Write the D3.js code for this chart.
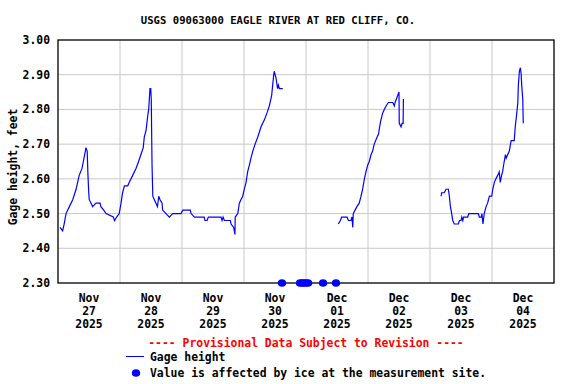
<!DOCTYPE html>
<html>
<head>
<meta charset="utf-8">
<script src="https://cdn.jsdelivr.net/npm/d3@7"></script>
<style>
  body { margin: 0; background: #fff; }
  text { font-family: "DejaVu Sans Mono", monospace; font-weight: bold; font-size: 11.4px; }
  .title { font-size: 10.6px; }
</style>
</head>
<body>
<div id="chart"></div>
<script>
// Gage height, hours since 2025-11-27 00:00 and feet
var seg1Hours = [0.8, 1.8, 2.4, 3.1, 4.4, 5.7, 7.0, 7.6, 8.2, 9.3, 9.8, 10.6, 10.8, 11.3, 11.6, 11.9, 12.1, 12.8, 13.4,
  14.7, 16.3, 16.6, 17.7, 18.6, 21.4, 21.9, 22.7, 23.7, 24.4, 25.0, 25.7, 27.0, 27.6, 28.9, 30.2, 31.2, 32.1, 33.0,
  33.4, 34.1, 34.7, 35.1, 35.6, 35.9, 36.1, 36.4, 36.7, 37.3, 37.9, 38.5, 39.0, 39.5, 40.3, 40.5, 41.8, 43.1, 44.4,
  47.6, 48.3, 51.2, 51.5, 52.8, 56.6, 56.9, 57.7, 58.2, 63.1, 63.5, 63.9, 64.4, 66.7, 67.0, 68.0, 68.5, 68.6, 69.6,
  70.2, 70.8, 71.5, 72.1, 72.8, 73.4, 74.1, 74.7, 75.4, 76.3, 77.3, 78.6, 79.9, 80.9, 81.8, 82.7, 83.1, 83.5, 83.7,
  84.4, 85.0, 85.3, 85.7, 87.0];
var seg1Gage = [2.46, 2.45, 2.47, 2.50, 2.52, 2.54, 2.57, 2.59, 2.61, 2.63, 2.65, 2.68, 2.69, 2.68, 2.61, 2.56, 2.54, 2.53, 2.52,
  2.53, 2.53, 2.52, 2.51, 2.50, 2.49, 2.48, 2.49, 2.50, 2.53, 2.56, 2.58, 2.58, 2.59, 2.61, 2.63, 2.65, 2.67, 2.69,
  2.72, 2.74, 2.78, 2.80, 2.86, 2.86, 2.83, 2.64, 2.55, 2.54, 2.53, 2.52, 2.55, 2.54, 2.53, 2.51, 2.50, 2.49, 2.50,
  2.50, 2.51, 2.51, 2.50, 2.49, 2.49, 2.48, 2.48, 2.49, 2.49, 2.48, 2.49, 2.48, 2.48, 2.47, 2.46, 2.44, 2.49, 2.50,
  2.53, 2.54, 2.55, 2.57, 2.59, 2.62, 2.64, 2.66, 2.68, 2.70, 2.72, 2.75, 2.77, 2.79, 2.81, 2.84, 2.87, 2.90, 2.91,
  2.89, 2.86, 2.87, 2.86, 2.86];

var seg2Hours = [108.5, 109.3, 109.8, 111.9, 112.4, 113.4, 113.8, 114.1, 114.3, 115.0, 115.7, 116.6, 117.3, 117.9, 118.6,
  119.2, 119.9, 120.5, 121.2, 121.8, 122.4, 123.5, 124.1, 124.5, 125.0, 125.7, 126.3, 127.0, 127.9, 129.6, 130.2,
  130.5, 131.0, 131.5, 132.0, 132.1, 132.8, 133.2, 133.6, 133.7];
var seg2Gage = [2.47, 2.48, 2.49, 2.49, 2.48, 2.48, 2.49, 2.46, 2.50, 2.51, 2.52, 2.53, 2.55, 2.57, 2.60,
  2.62, 2.64, 2.65, 2.67, 2.68, 2.70, 2.72, 2.73, 2.75, 2.77, 2.79, 2.80, 2.81, 2.82, 2.82, 2.81,
  2.82, 2.83, 2.84, 2.85, 2.76, 2.75, 2.76, 2.76, 2.83];

var seg3Hours = [148.3, 148.5, 149.5, 150.2, 151.1, 151.5, 151.9, 152.4, 152.8, 153.4, 155.0, 155.4, 156.0, 156.3, 156.7,
  157.0, 158.6, 159.0, 162.7, 163.1, 163.9, 164.1, 164.5, 165.0, 165.7, 166.3, 167.0, 167.9, 168.3, 168.9, 169.5,
  170.2, 170.8, 171.2, 171.7, 172.1, 172.5, 173.2, 173.5, 174.1, 174.7, 175.4, 176.6, 177.0, 177.6, 178.0, 178.2,
  178.6, 179.0, 179.3, 179.5, 179.9, 180.1];
var seg3Gage = [2.55, 2.56, 2.56, 2.57, 2.57, 2.55, 2.52, 2.50, 2.48, 2.47, 2.47, 2.48, 2.48, 2.49, 2.48,
  2.49, 2.49, 2.50, 2.50, 2.49, 2.49, 2.50, 2.47, 2.50, 2.52, 2.53, 2.55, 2.55, 2.57, 2.59, 2.60,
  2.61, 2.62, 2.59, 2.61, 2.62, 2.64, 2.67, 2.66, 2.67, 2.68, 2.71, 2.71, 2.75, 2.79, 2.82, 2.87,
  2.91, 2.92, 2.90, 2.87, 2.83, 2.76];

// ice affected values, plotted along the bottom
var iceHours = [86.7, 93.7, 94.5, 95.2, 96.0, 96.8, 102.6, 107.6];

var dayLabels = [["Nov", "27", "2025"], ["Nov", "28", "2025"], ["Nov", "29", "2025"], ["Nov", "30", "2025"],
  ["Dec", "01", "2025"], ["Dec", "02", "2025"], ["Dec", "03", "2025"], ["Dec", "04", "2025"]];
var yTicks = [2.30, 2.40, 2.50, 2.60, 2.70, 2.80, 2.90, 3.00];

var width = 576, height = 384;
var margin = {left: 58, right: 22, top: 40, bottom: 101};
var start = new Date(2025, 10, 27);
var toDate = function(h) { return new Date(start.getTime() + h * 3600e3); };

var svg = d3.select("#chart").append("svg")
  .attr("width", width)
  .attr("height", height);

var x = d3.scaleTime()
  .domain([start, d3.timeDay.offset(start, 8)])
  .range([margin.left, width - margin.right]);
var y = d3.scaleLinear()
  .domain([2.30, 3.00])
  .range([height - margin.bottom, margin.top]);

// grid
var days = d3.timeDay.range(d3.timeDay.offset(start, 1), d3.timeDay.offset(start, 8));
svg.append("g").selectAll("line")
  .data(days).enter().append("line")
  .attr("x1", d => x(d)).attr("x2", d => x(d))
  .attr("y1", y(2.30)).attr("y2", y(3.00))
  .style("stroke", "#c8c8c8");
svg.append("g").selectAll("line")
  .data(yTicks.slice(1, -1)).enter().append("line")
  .attr("x1", x.range()[0]).attr("x2", x.range()[1])
  .attr("y1", d => y(d)).attr("y2", d => y(d))
  .style("stroke", "#c8c8c8");

// y tick labels
svg.append("g").selectAll("text")
  .data(yTicks).enter().append("text")
  .attr("x", 50).attr("y", d => y(d) + 4)
  .attr("text-anchor", "end")
  .text(d => d.toFixed(2));

// x labels, centred on each day
var xl = svg.append("g").selectAll("text")
  .data(dayLabels).enter().append("text")
  .attr("text-anchor", "middle")
  .attr("transform", (d, i) => "translate(" + x(toDate(i * 24 + 12)) + ",302)");
xl.each(function(d) {
  var t = d3.select(this);
  d.forEach(function(s, j) {
    t.append("tspan").attr("x", 0).attr("y", j * 13).text(s);
  });
});

// data lines
var line = d3.line()
  .x(d => x(toDate(d[0])))
  .y(d => y(d[1]));
[[seg1Hours, seg1Gage], [seg2Hours, seg2Gage], [seg3Hours, seg3Gage]].forEach(function(s) {
  svg.append("path")
    .datum(d3.zip(s[0], s[1]))
    .attr("d", line)
    .style("fill", "none")
    .style("stroke", "#0000ff")
    .style("stroke-width", 1.2);
});

// frame
svg.append("rect")
  .attr("x", margin.left).attr("y", margin.top)
  .attr("width", width - margin.left - margin.right)
  .attr("height", height - margin.top - margin.bottom)
  .style("fill", "none")
  .style("stroke", "#000")
  .style("stroke-width", 1.3);

// ice dots
svg.append("g").selectAll("ellipse")
  .data(iceHours).enter().append("ellipse")
  .attr("cx", d => x(toDate(d))).attr("cy", y(2.30))
  .attr("rx", 4.2).attr("ry", 3.8)
  .style("fill", "#0000ff");

// title and axis label
svg.append("text")
  .attr("class", "title")
  .attr("x", 278).attr("y", 24)
  .attr("text-anchor", "middle")
  .text("USGS 09063000 EAGLE RIVER AT RED CLIFF, CO.");
svg.append("text")
  .attr("transform", "translate(17,167) rotate(-90)")
  .attr("text-anchor", "middle")
  .text("Gage height, feet");

// legend
svg.append("text")
  .attr("x", 306).attr("y", 347)
  .attr("text-anchor", "middle")
  .style("fill", "#ff0000")
  .text("---- Provisional Data Subject to Revision ----");
svg.append("line")
  .attr("x1", 126).attr("x2", 144).attr("y1", 356.5).attr("y2", 356.5)
  .style("stroke", "#0000ff");
svg.append("text").attr("x", 150).attr("y", 361).text("Gage height");
svg.append("ellipse")
  .attr("cx", 136).attr("cy", 373).attr("rx", 4.2).attr("ry", 3.8)
  .style("fill", "#0000ff");
svg.append("text").attr("x", 150).attr("y", 377).text("Value is affected by ice at the measurement site.");
</script>
</body>
</html>
